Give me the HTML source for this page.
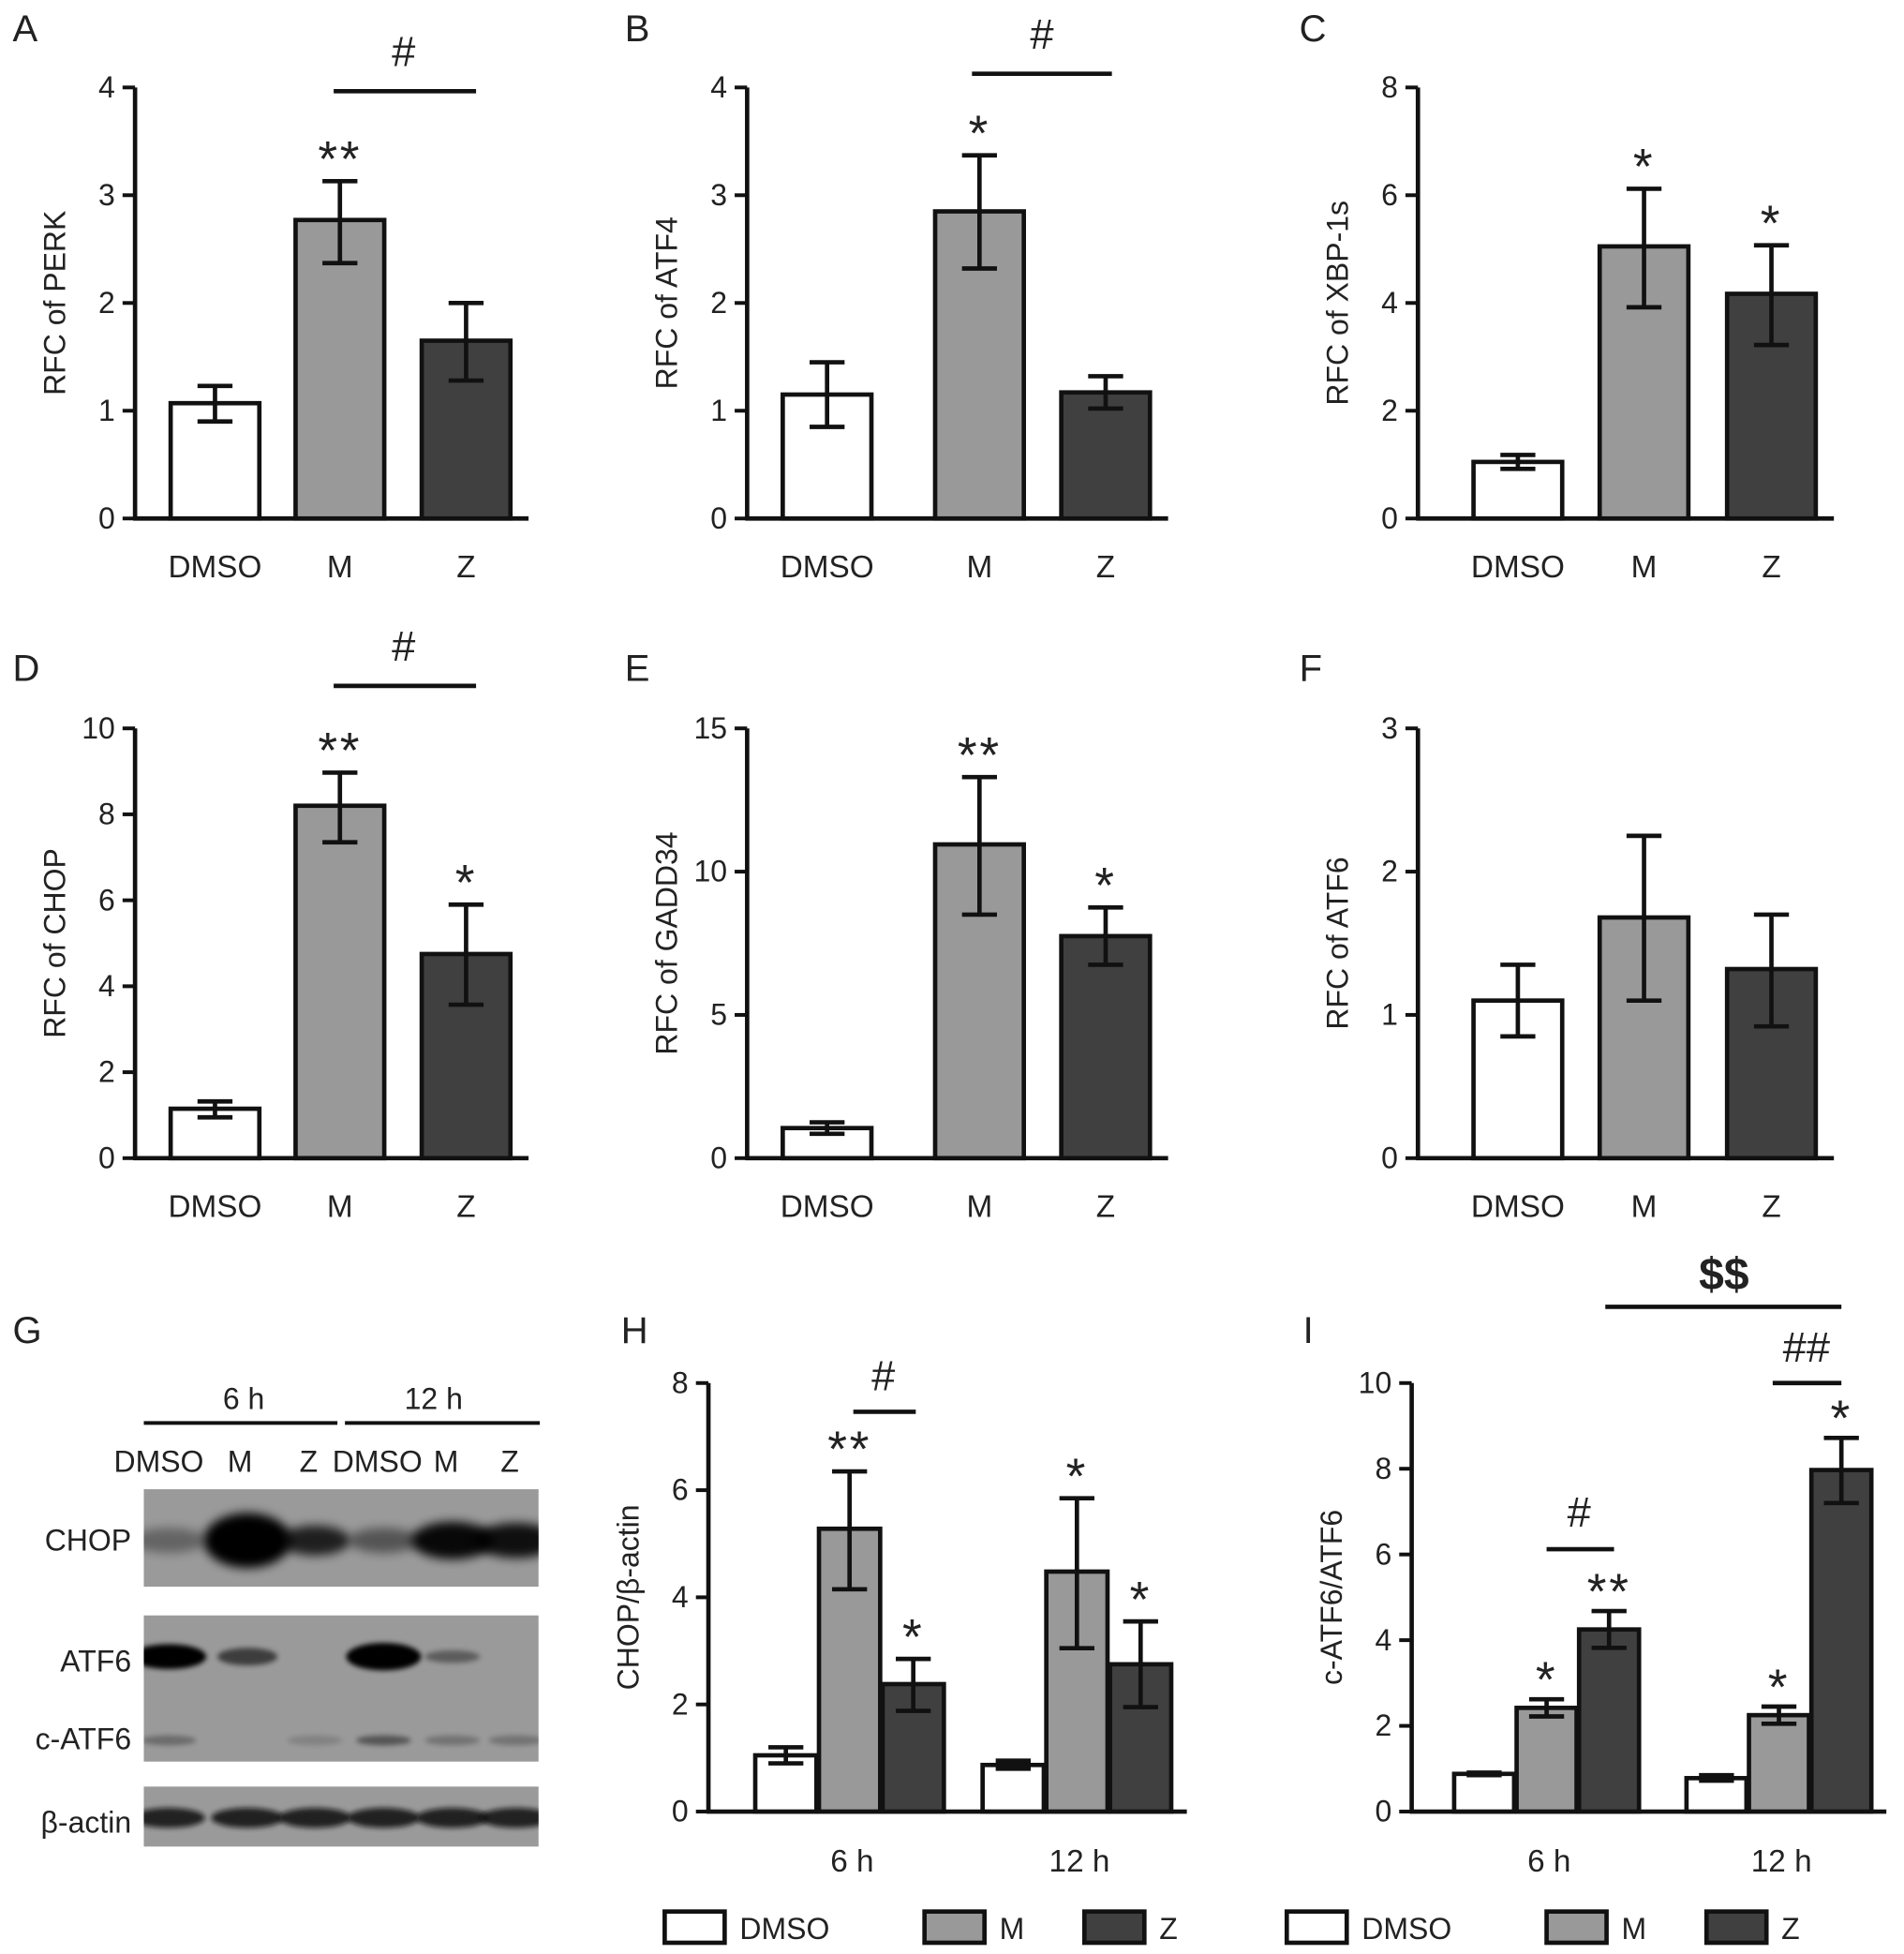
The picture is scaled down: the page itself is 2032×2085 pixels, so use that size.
<!DOCTYPE html>
<html><head><meta charset="utf-8"><style>
html,body{margin:0;padding:0;background:#fff}
svg{display:block}
text{font-family:"Liberation Sans",Arial,sans-serif;fill:#222}
</style></head><body>
<svg id="fig" width="2032" height="2085" viewBox="0 0 1524 1564" xmlns="http://www.w3.org/2000/svg">
<defs><filter id="blur" x="-50%" y="-50%" width="200%" height="200%"><feGaussianBlur stdDeviation="4"/></filter>
<filter id="blur2" x="-50%" y="-50%" width="200%" height="200%"><feGaussianBlur stdDeviation="2"/></filter>
<clipPath id="c1"><rect x="115" y="1192" width="316" height="78"/></clipPath>
<clipPath id="c2"><rect x="115" y="1293" width="316" height="117"/></clipPath>
<clipPath id="c3"><rect x="115" y="1430" width="316" height="48"/></clipPath></defs>
<g id="root"></g>
</svg>
<script>
// ---- data ----
const groups = ["DMSO","M","Z"];
const perkVals = [1.07,2.77,1.65], perkLo=[0.9,2.37,1.28], perkHi=[1.23,3.13,2.0];
const atf4Vals = [1.15,2.85,1.17], atf4Lo=[0.85,2.32,1.02], atf4Hi=[1.45,3.37,1.32];
const xbpVals = [1.05,5.05,4.17], xbpLo=[0.92,3.92,3.22], xbpHi=[1.18,6.12,5.07];
const chopVals = [1.15,8.2,4.75], chopLo=[0.95,7.35,3.57], chopHi=[1.32,8.97,5.9];
const gaddVals = [1.05,10.95,7.75], gaddLo=[0.85,8.5,6.75], gaddHi=[1.25,13.3,8.75];
const atf6Vals = [1.1,1.68,1.32], atf6Lo=[0.85,1.1,0.92], atf6Hi=[1.35,2.25,1.7];
const timeCats = ["6 h","12 h"];
const hVals = [[1.05,5.28,2.38],[0.87,4.48,2.75]];
const hLo = [[0.9,4.15,1.88],[0.8,3.05,1.95]];
const hHi = [[1.2,6.35,2.85],[0.95,5.85,3.55]];
const iVals = [[0.88,2.42,4.25],[0.78,2.25,7.97]];
const iLo = [[0.85,2.22,3.82],[0.72,2.05,7.2]];
const iHi = [[0.91,2.62,4.68],[0.85,2.45,8.72]];
const ticks4=[0,1,2,3,4], ticks8=[0,2,4,6,8], ticks10=[0,2,4,6,8,10], ticks15=[0,5,10,15], ticks3=[0,1,2,3];

const NS="http://www.w3.org/2000/svg";
const root=document.getElementById('root');
const fills=["#ffffff","#999999","#404040"];
function el(tag,attrs,parent,txt){const e=document.createElementNS(NS,tag);for(const k in attrs)e.setAttribute(k,attrs[k]);if(txt!==undefined)e.textContent=txt;(parent||root).appendChild(e);return e;}

function axes(g,ax,top,bot,xEnd,max,ticks,ylabel,name){
  const y=v=>bot-(v/max)*(bot-top);
  const a=el('line',{x1:ax,y1:top,x2:ax,y2:bot,stroke:'#111','stroke-width':3.5},g);
  
  const b=el('line',{x1:ax-1.5,y1:bot,x2:xEnd,y2:bot,stroke:'#111','stroke-width':3.5},g);
  
  ticks.forEach(t=>{el('line',{x1:ax-10,y1:y(t),x2:ax,y2:y(t),stroke:'#111','stroke-width':3},g);
    const tl=el('text',{x:ax-16,y:y(t)+8,'text-anchor':'end','font-size':24},g,t);
    });
  const yl=el('text',{x:0,y:0,'text-anchor':'middle','font-size':24,transform:`translate(${ax-56},${(top+bot)/2}) rotate(-90)`},g,ylabel);
  
  return y;
}
function bar(g,cx,w,v,lo,hi,y,fill,name){
  const bot=y(0);
  const r=el('rect',{x:cx-w/2,y:y(v),width:w,height:bot-y(v),fill:fill,stroke:'#111','stroke-width':3.5},g);
  
  const e=el('path',{d:`M${cx},${y(lo)}V${y(hi)}M${cx-14},${y(hi)}H${cx+14}M${cx-14},${y(lo)}H${cx+14}`,stroke:'#111','stroke-width':3.5,fill:'none'},g);
  
}
function txt(g,x,y,s,size,color,name,extra){const t=el('text',Object.assign({x:x,y:y,'text-anchor':'middle','font-size':size,fill:color||'#222'},extra||{}),g,s);
  return t;}
function star(g,x,y,s,color,name){return txt(g,x,y+8,s,40,color,name,{'font-family':'DejaVu Sans','letter-spacing':'2'});}
function panelLetter(x,y,s){const t=el('text',{x:x,y:y,'font-size':30},root,s);
  }

function simple(name,letter,lx,ly,ax,top,bot,max,ticks,ylabel,vals,lo,hi,centers,sig){
  const g=el('g',{},root);
  panelLetter(lx,ly,letter);
  const y=axes(g,ax,top,bot,centers[2]+50,max,ticks,ylabel,name);
  vals.forEach((v,i)=>{bar(g,centers[i],71,v,lo[i],hi[i],y,fills[i],name+'-bar-'+groups[i].toLowerCase());
    txt(g,centers[i],bot+47,groups[i],25,'#222',name+'-x-label');});
  sig(g,y);
}
simple('chart-perk','A',10,33,108,70,415,4,ticks4,'RFC of PERK',perkVals,perkLo,perkHi,[172,272,373],(g,y)=>{
  star(g,272,y(perkHi[1])-12,'**','#333','sig-m');
  const l=el('line',{x1:267,y1:73,x2:381,y2:73,stroke:'#111','stroke-width':3.5},g);
  txt(g,323,53,'#',34,'#222','sig-hash');});
simple('chart-atf4','B',500,33,598,70,415,4,ticks4,'RFC of ATF4',atf4Vals,atf4Lo,atf4Hi,[662,784,885],(g,y)=>{
  star(g,784,y(atf4Hi[1])-12,'*','#333','sig-m');
  const l=el('line',{x1:778,y1:59,x2:890,y2:59,stroke:'#111','stroke-width':3.5},g);
  txt(g,834,39,'#',34,'#222','sig-hash');});
simple('chart-xbp1s','C',1040,33,1135,70,415,8,ticks8,'RFC of XBP-1s',xbpVals,xbpLo,xbpHi,[1215,1316,1418],(g,y)=>{
  star(g,1316,y(xbpHi[1])-12,'*','#333','sig-m');
  star(g,1418,y(xbpHi[2])-12,'*','#777','sig-z');});
simple('chart-chop','D',10,545,108,583,927,10,ticks10,'RFC of CHOP',chopVals,chopLo,chopHi,[172,272,373],(g,y)=>{
  star(g,272,y(chopHi[1])-12,'**','#333','sig-m');
  star(g,373,y(chopHi[2])-12,'*','#777','sig-z');
  const l=el('line',{x1:267,y1:549,x2:381,y2:549,stroke:'#111','stroke-width':3.5},g);
  txt(g,323,529,'#',34,'#222','sig-hash');});
simple('chart-gadd34','E',500,545,598,583,927,15,ticks15,'RFC of GADD34',gaddVals,gaddLo,gaddHi,[662,784,885],(g,y)=>{
  star(g,784,y(gaddHi[1])-12,'**','#333','sig-m');
  star(g,885,y(gaddHi[2])-12,'*','#777','sig-z');});
simple('chart-atf6','F',1040,545,1135,583,927,3,ticks3,'RFC of ATF6',atf6Vals,atf6Lo,atf6Hi,[1215,1316,1418],(g,y)=>{});

function grouped(name,letter,lx,ly,ax,top,bot,xEnd,max,ticks,ylabel,vals,lo,hi,groupCenters,bw){
  const g=el('g',{},root);
  panelLetter(lx,ly,letter);
  const y=axes(g,ax,top,bot,xEnd,max,ticks,ylabel,name);
  vals.forEach((arr,gi)=>{arr.forEach((v,i)=>{bar(g,groupCenters[gi]+(i-1)*(bw+2),bw,v,lo[gi][i],hi[gi][i],y,fills[i],name+'-bar-'+timeCats[gi].replace(' ','')+'-'+groups[i].toLowerCase());});
    txt(g,groupCenters[gi]+2,bot+48,timeCats[gi],25,'#222',name+'-x-label');});
  return {g,y};
}
const H=grouped('chart-chop-actin','H',497,1075,567,1107,1450,950,8,ticks8,'CHOP/β-actin',hVals,hLo,hHi,[680,862],49);
star(H.g,680,H.y(hHi[0][1])-12,'**','#333','sig');
star(H.g,731,H.y(hHi[0][2])-12,'*','#333','sig');
star(H.g,862,H.y(hHi[1][1])-12,'*','#333','sig');
star(H.g,913,H.y(hHi[1][2])-12,'*','#333','sig');
el('line',{x1:683,y1:1130,x2:733,y2:1130,stroke:'#111','stroke-width':3.5},H.g);
txt(H.g,707,1113,'#',34,'#222','sig-hash');

const I=grouped('chart-catf6-ratio','I',1043,1075,1130,1107,1450,1510,10,ticks10,'c-ATF6/ATF6',iVals,iLo,iHi,[1238,1424],48);
star(I.g,1238,I.y(iHi[0][1])-10,'*','#333','sig');
star(I.g,1288,I.y(iHi[0][2])-10,'**','#333','sig');
star(I.g,1424,I.y(iHi[1][1])-10,'*','#333','sig');
star(I.g,1474,I.y(iHi[1][2])-10,'*','#333','sig');
el('line',{x1:1238,y1:1240,x2:1292,y2:1240,stroke:'#111','stroke-width':3.5},I.g);
txt(I.g,1264,1222,'#',34,'#222','sig-hash');
el('line',{x1:1419,y1:1107,x2:1474,y2:1107,stroke:'#111','stroke-width':3.5},I.g);
txt(I.g,1446,1090,'##',34,'#222','sig-hash2');
el('line',{x1:1285,y1:1046,x2:1474,y2:1046,stroke:'#111','stroke-width':3.5},I.g);
txt(I.g,1380,1032,'$$',36,'#222','sig-dollar',{'font-family':'Liberation Serif','font-weight':'bold'});

function legend(positions){
  const g=el('g',{},root);
  positions.forEach((px,i)=>{const r=el('rect',{x:px,y:1530,width:48,height:25,fill:fills[i],stroke:'#111','stroke-width':3.5},g);
    
    const t=el('text',{x:px+60,y:1552,'font-size':24},g,groups[i]);
    });
}
legend([532,740,868]);legend([1030,1238,1366]);

// ---- western blot ----
const blot=el('g',{},root);
panelLetter(10,1075,'G');
txt(blot,195,1128,'6 h',24,'#222','time-6h');txt(blot,347,1128,'12 h',24,'#222','time-12h');
el('line',{x1:115,y1:1139,x2:270,y2:1139,stroke:'#111','stroke-width':3},blot);
el('line',{x1:276,y1:1139,x2:432,y2:1139,stroke:'#111','stroke-width':3},blot);
const laneX=[130,193,247,302,357,408];
const laneLbl=["DMSO","M","Z","DMSO","M","Z"];
laneLbl.forEach((s,i)=>txt(blot,[127,192,247,302,357,408][i],1178,s,24,'#222','lane-label'));
[[1192,78],[1293,117],[1430,48]].forEach(([y,h])=>{const r=el('rect',{x:115,y:y,width:316,height:h,fill:'#9a9a9a'},blot);});
const g1=el('g',{'clip-path':'url(#c1)'},blot),g2=el('g',{'clip-path':'url(#c2)'},blot),g3=el('g',{'clip-path':'url(#c3)'},blot);
const chopBand=[[0.35,30,10],[1,35,22],[0.8,28,12],[0.45,28,10],[0.95,33,15],[0.9,33,14]];
chopBand.forEach(([o,rx,ry],i)=>el('ellipse',{cx:laneX[i]+5,cy:1233,rx:rx,ry:ry,fill:'#000',opacity:o,filter:'url(#blur)'},g1));
const atfBand=[[1,30,10],[0.6,24,7],[0,1,1],[1,30,11],[0.4,22,5],[0,1,1]];
atfBand.forEach(([o,rx,ry],i)=>el('ellipse',{cx:laneX[i]+5,cy:1326,rx:rx,ry:ry,fill:'#000',opacity:o,filter:'url(#blur2)'},g2));
[0.3,0,0.15,0.45,0.25,0.25].forEach((o,i)=>el('ellipse',{cx:laneX[i]+5,cy:1393,rx:22,ry:4,fill:'#000',opacity:o,filter:'url(#blur2)'},g2));
[0,1,2,3,4,5].forEach(i=>el('ellipse',{cx:laneX[i]+5,cy:1455,rx:29,ry:8,fill:'#111',opacity:0.85,filter:'url(#blur2)'},g3));
[['CHOP',1241],['ATF6',1338],['c-ATF6',1400],['β-actin',1467]].forEach(([s,y])=>{const t=el('text',{x:105,y:y,'text-anchor':'end','font-size':24},blot,s);});
</script>
</body></html>
